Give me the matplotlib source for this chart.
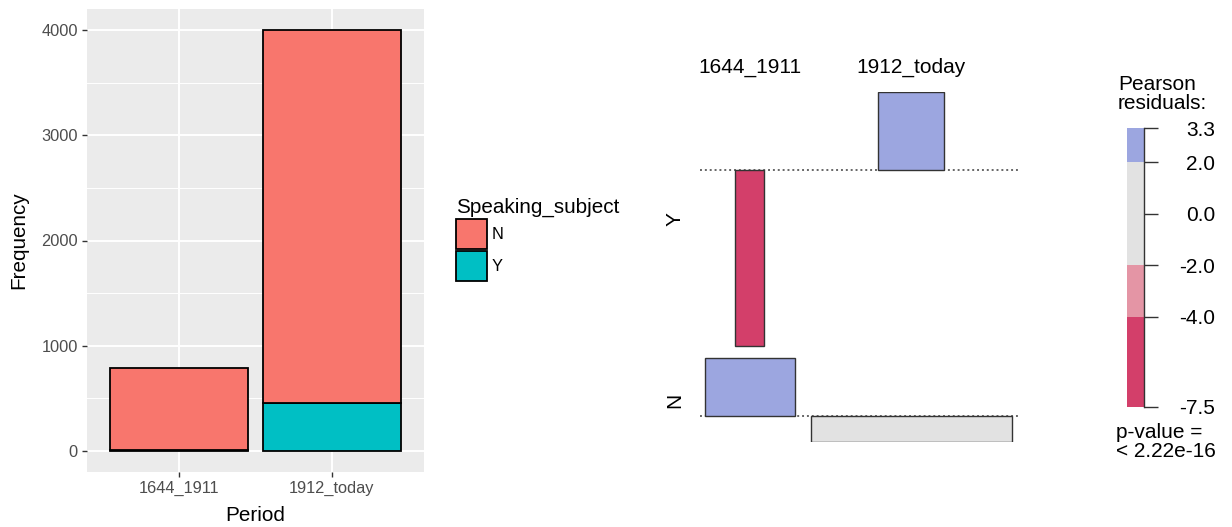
import numpy as np
import matplotlib
matplotlib.use("Agg")
import matplotlib.pyplot as plt
from matplotlib.patches import Patch

plt.rcParams['font.family'] = ['Liberation Sans', 'DejaVu Sans']

# ---- data -------------------------------------------------------------
periods = ['1644_1911', '1912_today']
levels = ['N', 'Y']
counts_N = [779, 3547]
counts_Y = [11, 453]

y_ticks = [0, 1000, 2000, 3000, 4000]
fill_colors = {'N': '#F8766D', 'Y': '#00BFC4'}

# ---- figure geometry (pixels) -----------------------------------------
W, H = 1232, 527
fig = plt.figure(figsize=(W / 100, H / 100), dpi=100)


def px_box(x0, y0, x1, y1):
    return [x0 / W, 1 - y1 / H, (x1 - x0) / W, (y1 - y0) / H]


# ---- stacked bar chart (ggplot style) ---------------------------------
ax = fig.add_axes(px_box(87.2, 9.0, 423.8, 472.0))
ax.set_facecolor('#EBEBEB')
x = np.arange(len(periods))
ax.bar(x, counts_Y, width=0.9, color=fill_colors['Y'], edgecolor='black',
       linewidth=1.3, zorder=3)
ax.bar(x, counts_N, width=0.9, bottom=counts_Y, color=fill_colors['N'],
       edgecolor='black', linewidth=1.3, zorder=3)
ax.set_xlim(-0.6, len(periods) - 0.4)
ax.set_ylim(-200, 4200)
ax.set_xticks(x)
ax.set_xticklabels(periods)
ax.set_yticks(y_ticks)
ax.set_yticks([500, 1500, 2500, 3500], minor=True)
ax.grid(which='major', color='white', linewidth=1.4, zorder=0)
ax.grid(which='minor', axis='y', color='white', linewidth=0.7, zorder=0)
ax.set_axisbelow(True)
for s in ax.spines.values():
    s.set_visible(False)
ax.tick_params(which='major', length=3.7, width=1.0, color='#333333',
               labelcolor='#4D4D4D', labelsize=11.8, pad=3)
ax.tick_params(which='minor', length=0)
ax.set_xlabel('Period', fontsize=14.9)
ax.set_ylabel('Frequency', fontsize=14.9)
ax.yaxis.set_label_coords(-0.176, 0.5)
ax.xaxis.set_label_coords(0.5, -0.074)

handles = [Patch(facecolor=fill_colors[l], edgecolor='black', linewidth=1.3,
                 label=l) for l in levels]
fig.legend(handles=handles, title='Speaking_subject', loc='upper left',
           bbox_to_anchor=(456 / W, 1 - 198 / H), frameon=False,
           fontsize=11.8, title_fontsize=14.9, handlelength=1.9,
           handleheight=2.45, handletextpad=0.25, labelspacing=0.1,
           borderpad=0, borderaxespad=0, alignment='left')

# ---- association plot of Pearson residuals ----------------------------
obs = np.array([counts_N, counts_Y], dtype=float)
n = obs.sum()
expected = np.outer(obs.sum(axis=1), obs.sum(axis=0)) / n
resid = (obs - expected) / np.sqrt(expected)
widths = np.sqrt(expected)


def shade(r):
    if r > 4:
        return '#4A6FE3'
    if r > 2:
        return '#9CA6E0'
    if r < -4:
        return '#D33F6A'
    if r < -2:
        return '#E495A5'
    return '#E2E2E2'


col_w = widths.max(axis=0)
col_gap = 4.8
col_left = np.concatenate([[0], np.cumsum(col_w + col_gap)[:-1]])
col_center = col_left + col_w / 2
margin_l, margin_r = 1.5, 2.1

row_gap = 0.535
row_order = [1, 0]  # Y on top, N below
row_top = {}
row_base = {}
cursor = 0.0
for i in row_order:
    top = max(0.0, resid[i].max())
    bot = min(0.0, resid[i].min())
    row_top[i] = cursor
    row_base[i] = cursor - top
    cursor = row_base[i] + bot - row_gap
y_bottom = cursor + row_gap

ax2 = fig.add_axes(px_box(700, 91.7, 1019, 441.7))
ax2.set_xlim(-margin_l, col_left[-1] + col_w[-1] + margin_r)
ax2.set_ylim(y_bottom, 0)
ax2.axis('off')

for i in row_order:
    b = row_base[i]
    ax2.axhline(b, color='#666666', linewidth=1.4, linestyle=(0, (1, 1.5)),
                zorder=1)
    for j in range(len(periods)):
        ax2.bar(col_center[j], resid[i, j], width=widths[i, j], bottom=b,
                color=shade(resid[i, j]), edgecolor='#333333',
                linewidth=1.0, zorder=2)
    row_mid = (row_top[i] + row_base[i] + min(0.0, resid[i].min())) / 2
    ax2.text(-margin_l - 25 / 3.34, row_mid, levels[i], rotation=90,
             ha='center', va='center', fontsize=15, clip_on=False)

for j, p in enumerate(periods):
    ax2.text(col_center[j], 1.07, p, transform=ax2.get_xaxis_transform(),
             ha='center', va='center', fontsize=15)

# ---- residual shading legend ------------------------------------------
rmin, rmax = resid.min(), resid.max()
cuts = [rmin, -4, -2, 2, 4, rmax]
bounds = sorted(set([c for c in cuts if rmin <= c <= rmax]))
ax3 = fig.add_axes(px_box(1126.7, 128.3, 1144.3, 406.7))
for lo, hi in zip(bounds[:-1], bounds[1:]):
    ax3.bar(0, hi - lo, bottom=lo, width=1, color=shade((lo + hi) / 2),
            linewidth=0)
ax3.set_xlim(-0.5, 0.5)
ax3.set_ylim(rmin, rmax)
for name in ['left', 'top', 'bottom']:
    ax3.spines[name].set_visible(False)
ax3.spines['right'].set_color('#333333')
ax3.spines['right'].set_linewidth(1.0)
ax3.set_xticks([])
ax3.yaxis.tick_right()
leg_ticks = [rmax, 2, 0, -2, -4, rmin]
ax3.set_yticks(leg_ticks)
ax3.set_yticklabels(['%.1f' % t for t in leg_ticks])
ax3.tick_params(axis='y', length=10, width=1.0, color='#333333',
                labelsize=15, pad=41)
for lab in ax3.get_yticklabels():
    lab.set_horizontalalignment('right')

fig.text(1118 / W, 1 - 94 / H, 'Pearson\nresiduals:', ha='left',
         va='center', fontsize=15, linespacing=0.95)
fig.text(1116 / W, 1 - 442 / H, 'p-value =\n< 2.22e-16', ha='left',
         va='center', fontsize=15, linespacing=0.95)

fig.savefig('out.png', dpi=100)
